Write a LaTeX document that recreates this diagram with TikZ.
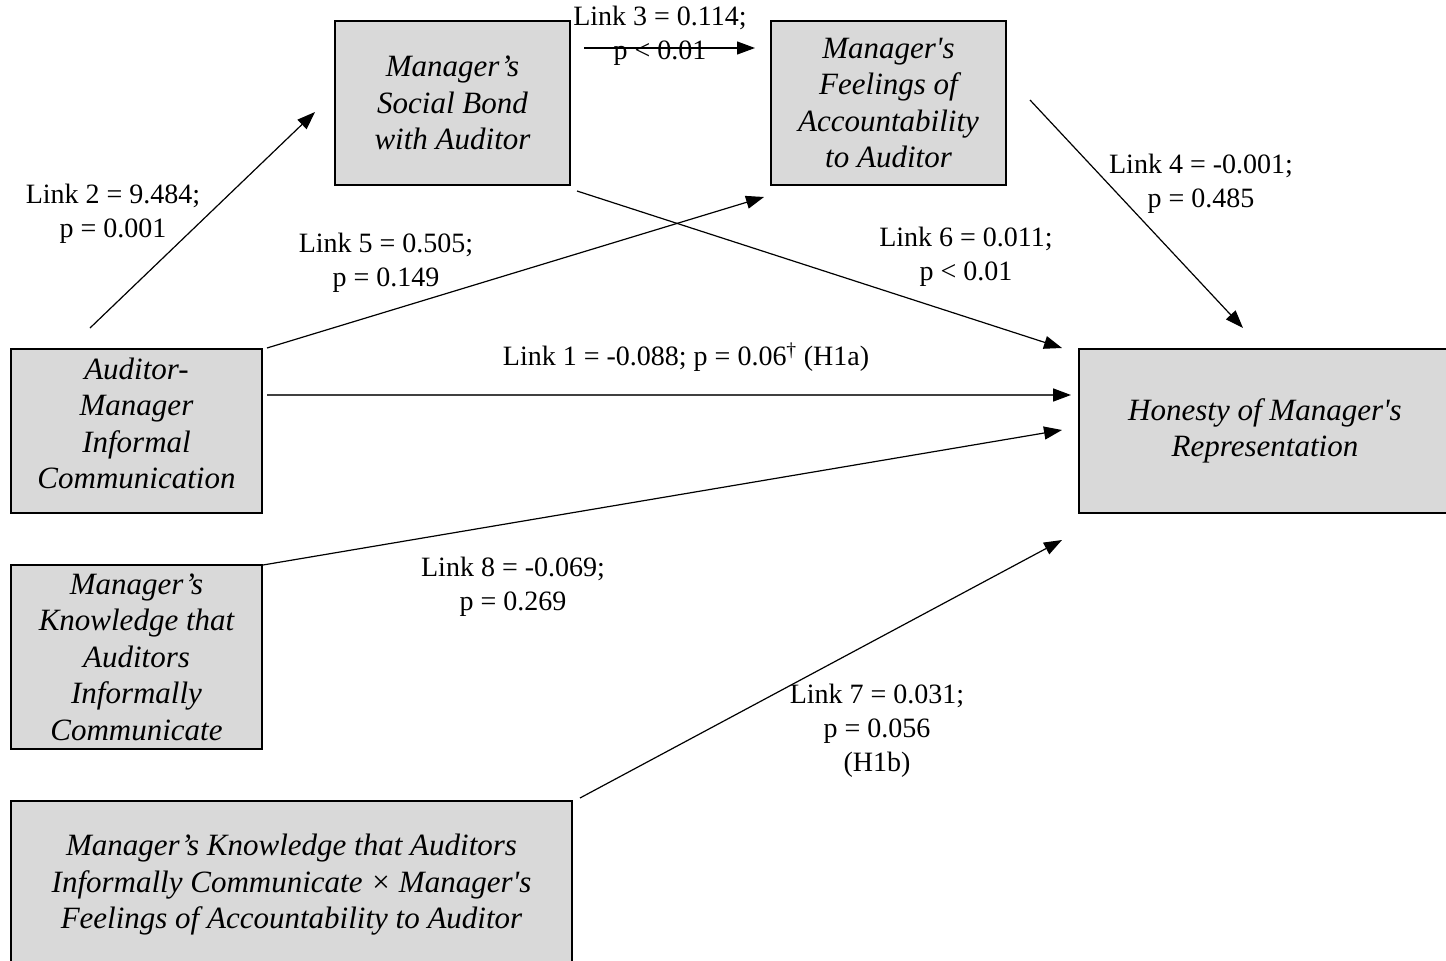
\documentclass[tikz,border=0pt]{standalone}
\usepackage{fontspec}
\setmainfont{Liberation Serif}
\usetikzlibrary{arrows.meta}
\definecolor{boxgray}{HTML}{D9D9D9}
\begin{document}
\begin{tikzpicture}[x=1pt,y=-1pt,
  box/.style={draw, line width=2pt, fill=boxgray, font=\itshape\fontsize{31}{36.5}\selectfont,
    align=center, anchor=north west, inner sep=0pt},
  lbl/.style={font=\fontsize{28}{34}\selectfont, align=center, inner sep=0pt},
  arr/.style={-{Triangle[length=18pt,width=13pt,color=black]}, line width=1.2pt}]
\useasboundingbox (0,0) rectangle (1446,961);
% boxes
\node[box, minimum width=235pt, minimum height=164pt] (sb) at (334,20) {Manager’s\\Social Bond\\with Auditor};
\node[box, minimum width=235pt, minimum height=164pt] (fa) at (770,20) {Manager\textquotesingle s\\Feelings of\\Accountability\\to Auditor};
\node[box, minimum width=372pt, minimum height=164pt] (hon) at (1078,348) {Honesty of Manager\textquotesingle s\\Representation};
\node[box, minimum width=251pt, minimum height=164pt] (am) at (10,348) {Auditor-\\Manager\\Informal\\Communication\\[-21pt]};
\node[box, minimum width=251pt, minimum height=184pt] (kn) at (10,564) {Manager’s\\Knowledge that\\Auditors\\Informally\\Communicate};
\node[box, minimum width=561pt, minimum height=168pt] (ix) at (10,800) {Manager’s Knowledge that Auditors\\Informally Communicate × Manager\textquotesingle s\\Feelings of Accountability to Auditor};
% connectors
\draw[arr] ([shift={(80,-20)}]am.north west) -- ([shift={(-19,92)}]sb.north west);
\draw[arr] ([shift={(13,28)}]sb.north east) -- ([shift={(-15,28)}]fa.north west);
\draw[arr] ([shift={(23,80)}]fa.north east) -- ([shift={(165,-20)}]hon.north west);
\draw[arr] ([shift={(4,0)}]am.north east) -- ([shift={(-6,11)}]fa.south west);
\draw[arr] ([shift={(6,5)}]sb.south east) -- ([shift={(-16,0)}]hon.north west);
\draw[arr, line width=1.6pt, draw=black!75] ([shift={(4,47)}]am.north east) -- ([shift={(-7,47)}]hon.north west);
\draw[arr] ([shift={(0,1)}]kn.north east) -- ([shift={(-16,82)}]hon.north west);
\draw[arr] ([shift={(7,-2)}]ix.north east) -- ([shift={(-16,26)}]hon.south west);
% labels
\node[lbl] (l2) at (113,214) {Link 2 = 9.484;\\p = 0.001};
\node[lbl] (l5) at (386,263) {Link 5 = 0.505;\\p = 0.149};
\node[lbl] (l3) at (660,36) {Link 3 = 0.114;\\p < 0.01};
\node[lbl] (l4) at (1201,184) {Link 4 = -0.001;\\p = 0.485};
\node[lbl] (l6) at (966,257) {Link 6 = 0.011;\\p < 0.01};
\node[lbl] (l1) at (686,357) {Link 1 = -0.088; p = 0.06\textsuperscript{†} (H1a)};
\node[lbl] (l8) at (513,587) {Link 8 = -0.069;\\p = 0.269};
\node[lbl] (l7) at (877,731) {Link 7 = 0.031;\\p = 0.056\\(H1b)};
\end{tikzpicture}
\end{document}
